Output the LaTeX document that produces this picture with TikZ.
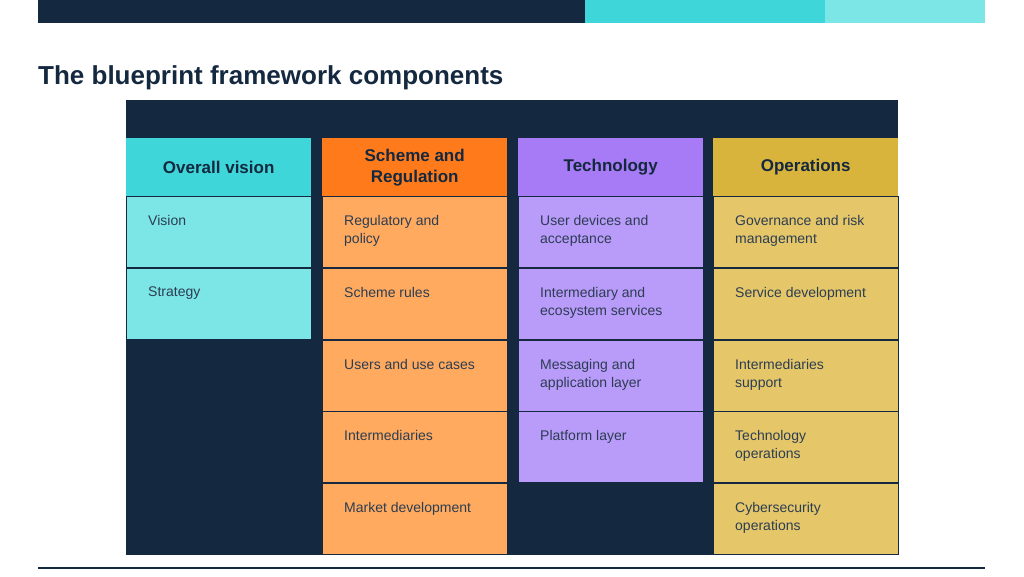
\documentclass[tikz,border=0pt]{standalone}
\usepackage{fontspec}
\setmainfont{Liberation Sans}
\usetikzlibrary{positioning}
\definecolor{navy}{HTML}{14283F}
\definecolor{cyanh}{HTML}{3FD6DA}
\definecolor{cyanl}{HTML}{7CE6E6}
\definecolor{orangeh}{HTML}{FF7A1A}
\definecolor{orangel}{HTML}{FFAA5E}
\definecolor{purpleh}{HTML}{A77BF5}
\definecolor{purplel}{HTML}{B99BFA}
\definecolor{goldh}{HTML}{D8B43C}
\definecolor{goldl}{HTML}{E5C76A}
\begin{document}
\begin{tikzpicture}[%
    x=1pt, y=-1pt,
headnode/.style={rectangle, align=center, anchor=north west, minimum width=185pt, minimum height=58pt, inner sep=0pt, font=\fontsize{17}{21}\selectfont\bfseries, text=navy},
cellnode/.style={rectangle, align=left, anchor=north west, minimum width=185pt, minimum height=71pt, inner sep=0pt, font=\fontsize{14}{18}\selectfont, text=navy, draw=navy, line width=0.6pt},
celltext/.style={anchor=north west, align=left, inner sep=0pt, font=\fontsize{14}{18}\selectfont, text=navy!90},
]
\useasboundingbox (0,0) rectangle (1024,576);
% top bar
\fill[navy] (38,0) rectangle (585,23);
\fill[cyanh] (585,0) rectangle (825,23);
\fill[cyanl] (825,0) rectangle (985,23);
\node[anchor=west, inner sep=0pt, font=\fontsize{26}{30}\selectfont\bfseries, text=navy] (title) at (38,78) {The blueprint framework components};
\draw[navy, line width=1.5pt] (38,568) -- (985,568);
% panel
\fill[navy] (126,100) rectangle (898,555);

% headers
\node[headnode, fill=cyanh]   (hvision) at (126,138) {Overall vision};
\node[headnode, fill=orangeh] (hscheme) at (322,138) {Scheme and\\Regulation};
\node[headnode, fill=purpleh] (htech)   at (518,138) {Technology};
\node[headnode, fill=goldh]   (hops)    at (713,138) {Operations};

% cells
\newcommand{\cell}[5]{%
  \node[cellnode, fill=#2] (#1) at (#3,#4) {};
  \node[celltext] (#1txt) at ([xshift=22pt,yshift=-19pt]#1.north west) {#5};}

\cell{vision}{cyanl}{126}{196}{Vision}
\cell{strategy}{cyanl}{126}{268}{Strategy}

\cell{regulatory}{orangel}{322}{196}{Regulatory and\\policy}
\cell{rules}{orangel}{322}{268}{Scheme rules}
\cell{users}{orangel}{322}{340}{Users and use cases}
\cell{intermed}{orangel}{322}{411}{Intermediaries}
\cell{market}{orangel}{322}{483}{Market development}

\cell{devices}{purplel}{518}{196}{User devices and\\acceptance}
\cell{ecosystem}{purplel}{518}{268}{Intermediary and\\ecosystem services}
\cell{messaging}{purplel}{518}{340}{Messaging and\\application layer}
\cell{platform}{purplel}{518}{411}{Platform layer}

\cell{governance}{goldl}{713}{196}{Governance and risk\\management}
\cell{service}{goldl}{713}{268}{Service development}
\cell{support}{goldl}{713}{340}{Intermediaries\\support}
\cell{techops}{goldl}{713}{411}{Technology\\operations}
\cell{cyber}{goldl}{713}{483}{Cybersecurity\\operations}
\end{tikzpicture}
\end{document}
